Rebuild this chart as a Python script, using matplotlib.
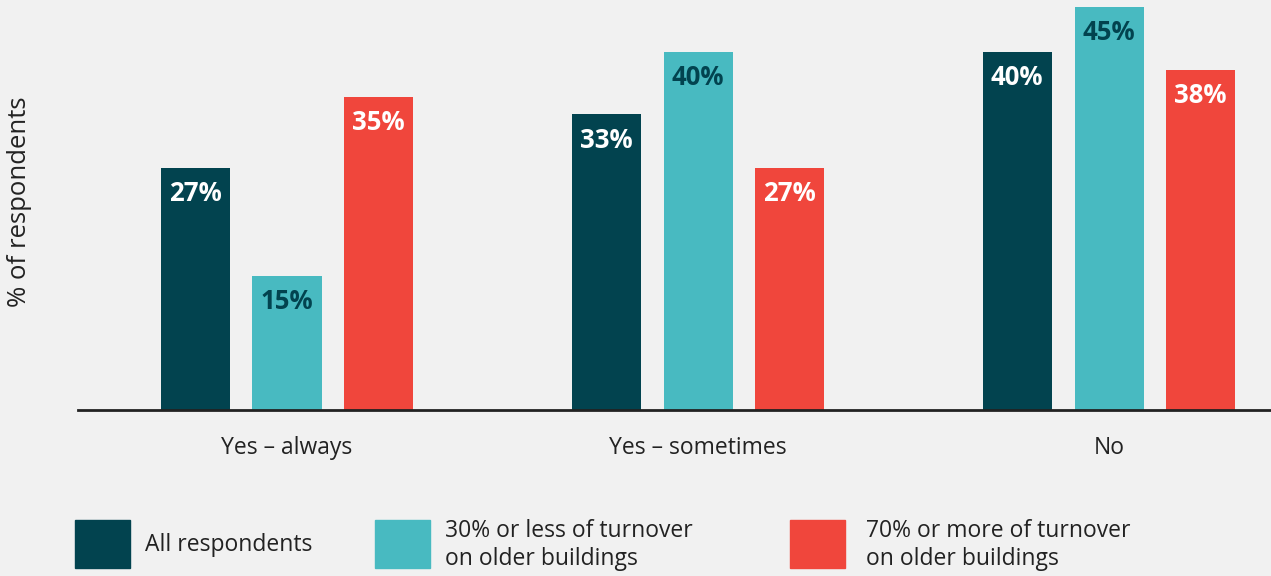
import numpy as np
import matplotlib.pyplot as plt
from matplotlib.patches import Rectangle

plt.rcParams['font.family'] = ['Open Sans', 'DejaVu Sans']

categories = ['Yes – always', 'Yes – sometimes', 'No']
series_names = ['All respondents',
                '30% or less of turnover\non older buildings',
                '70% or more of turnover\non older buildings']
all_resp = [27, 33, 40]
low_turnover = [15, 40, 45]
high_turnover = [35, 27, 38]

colors = ['#02434f', '#48bac1', '#f0463c']
label_colors = ['white', '#02434f', 'white']
bg = '#f1f1f1'
text_col = '#222222'

W, H = 1271, 576
fig = plt.figure(figsize=(W / 100, H / 100), dpi=100, facecolor=bg)
ax = fig.add_axes([78 / W, 166 / H, 1193 / W, 410 / H], facecolor=bg)

x = np.arange(len(categories))
offsets = [-0.2235, 0.0, 0.2215]
width = 0.168
for vals, off, c, lc in zip([all_resp, low_turnover, high_turnover], offsets, colors, label_colors):
    bars = ax.bar(x + off, vals, width=width, color=c, zorder=2)
    for b, v in zip(bars, vals):
        ax.annotate(f'{v}%', (b.get_x() + b.get_width() / 2, v),
                    xytext=(0, -18.5), textcoords='offset points',
                    ha='center', va='center', color=lc,
                    fontsize=18.5, fontweight='bold')

ax.set_xlim(-0.5085, 2.394)
ax.set_ylim(0, 45.78)
for s in ['top', 'right', 'left']:
    ax.spines[s].set_visible(False)
ax.spines['bottom'].set_color(text_col)
ax.spines['bottom'].set_linewidth(2)
ax.set_yticks([])
ax.set_xticks(x)
ax.set_xticklabels(categories, fontsize=16.5, color=text_col)
ax.tick_params(axis='x', length=0, pad=19)

fig.text(20 / W, 1 - 202 / H, '% of respondents', rotation=90,
         ha='center', va='center', fontsize=18.5, color=text_col)

# legend drawn by hand along the bottom
legend_x = [75, 375, 790]
text_x = [145, 445, 866]
for lx, tx, c, name in zip(legend_x, text_x, colors, series_names):
    fig.add_artist(Rectangle((lx / W, 1 - 568 / H), 55 / W, 48 / H,
                             transform=fig.transFigure, color=c))
    fig.text(tx / W, 1 - 545 / H, name, ha='left', va='center',
             fontsize=16.5, color=text_col, linespacing=1.27)

fig.savefig('out.png', dpi=100, facecolor=bg)
